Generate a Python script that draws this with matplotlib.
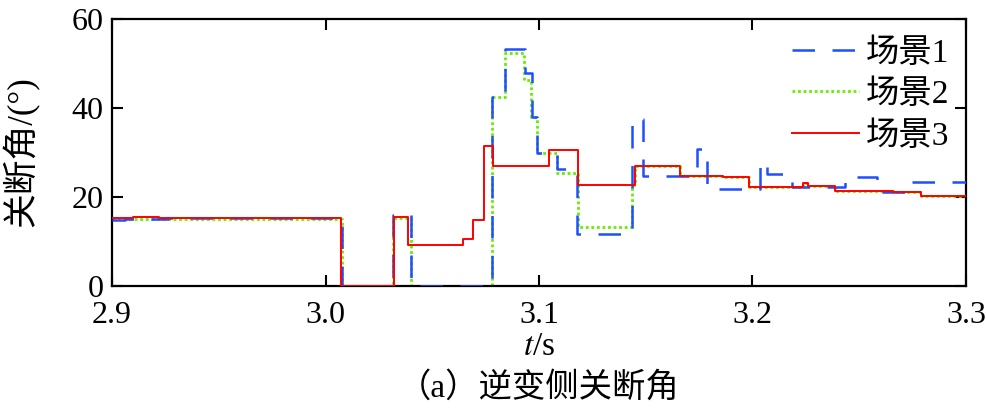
import matplotlib
matplotlib.use("Agg")
import matplotlib.pyplot as plt
import numpy as np

plt.rcParams['font.family'] = ['Liberation Serif', 'Noto Sans CJK SC']
plt.rcParams['mathtext.fontset'] = 'stix'

# 场景1 (blue dashed)
t1 = [2.9, 2.906, 2.926, 3.0075, 3.0316, 3.0399, 3.0778, 3.0840, 3.0934, 3.0966,
      3.0989, 3.1084, 3.1177, 3.1434, 3.1488, 3.1739, 3.1786, 3.2035, 3.2066,
      3.2183, 3.2433, 3.2582, 3.2732, 3.3]
v1 = [14.8, 15.1, 15.2, 0.0, 16.0, 0.0, 42.4, 53.3, 47.8, 38.0,
      29.8, 26.4, 11.7, 37.5, 24.8, 30.9, 21.9, 27.9, 25.2,
      22.3, 24.6, 21.1, 23.4, 23.4]

# 场景3 (red solid)
t3 = [2.9, 2.910, 2.922, 3.0071, 3.0321, 3.0385, 3.0642, 3.0689, 3.0742, 3.0783,
      3.1045, 3.1181, 3.1448, 3.166, 3.186, 3.1985, 3.2237, 3.226, 3.2386,
      3.2658, 3.2788, 3.3]
v3 = [15.2, 15.6, 15.3, 0.0, 15.5, 9.2, 10.6, 14.8, 31.5, 27.0,
      30.6, 22.8, 27.0, 24.8, 24.6, 22.3, 23.2, 22.4, 21.4,
      21.1, 20.3, 20.3]

# 场景2 (green dotted), runs under 场景3 after 3.143 s
t2 = [2.9, 3.0075, 3.0316, 3.0399, 3.0778, 3.0840, 3.0931, 3.0961, 3.0989,
      3.1084, 3.1183, 3.1434] + [t for t in t3 if t > 3.1434]
v2 = [15.1, 0.0, 15.2, 0.0, 42.4, 52.3, 46.4, 38.0, 29.8,
      25.5, 13.3, 22.8] + [v for t, v in zip(t3, v3) if t > 3.1434]

fig = plt.figure(figsize=(9.87, 4.09), dpi=100)
ax = fig.add_axes([0.1135, 0.3007, 0.8652, 0.6528])

ax.step(t2, v2, where="post", color="#66ee00", lw=2.0, dashes=(1.0, 1.0), label="场景2", zorder=2)
ax.step(t1, v1, where="post", color="#1f4fff", lw=1.8, dashes=(9, 7), label="场景1", zorder=3)
ax.step(t3, v3, where="post", color="#ff0000", lw=1.4, label="场景3", zorder=4)

ax.set_xlim(2.9, 3.3)
ax.set_ylim(0, 60)
ax.set_xticks([2.9, 3.0, 3.1, 3.2, 3.3])
ax.set_xticklabels(["2.9", "3.0", "3.1", "3.2", "3.3"])
ax.set_yticks([0, 20, 40, 60])
ax.tick_params(direction="in", length=8, width=1.5, labelsize=23, top=True, right=True)
ax.tick_params(axis="x", pad=11)
ax.tick_params(axis="y", pad=6)
for s in ax.spines.values():
    s.set_linewidth(1.6)

xc = 539 / 987
fig.text(xc, 1 - 347 / 409, "$t$/s", ha="center", va="center", fontsize=24)
fig.text(0.021, 1 - 152 / 409, "关断角/(°)", ha="center", va="center", rotation=90, fontsize=25)
fig.text(xc, 1 - 388 / 409, "（a）逆变侧关断角", ha="center", va="center", fontsize=24)

h, l = ax.get_legend_handles_labels()
order = [1, 0, 2]
fig.legend([h[i] for i in order], [l[i] for i in order], loc="upper left", frameon=False,
           fontsize=24, handlelength=2.0, labelspacing=0.33, borderpad=0, borderaxespad=0,
           handletextpad=0.22, bbox_to_anchor=(792 / 987, 1 - 38 / 409))

fig.savefig("out.png", dpi=100)
